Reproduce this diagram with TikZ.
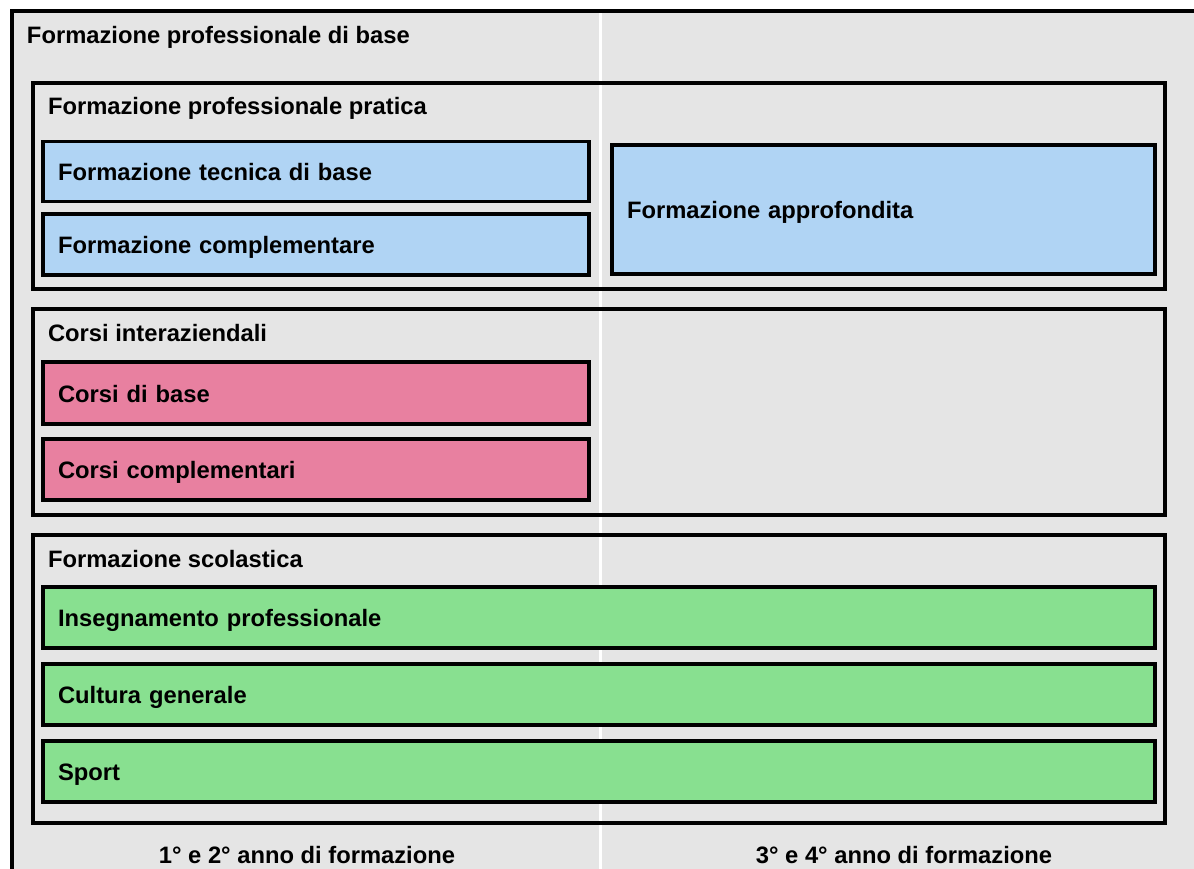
\documentclass[tikz,border=0pt]{standalone}
\usepackage{fontspec}
\setmainfont{Liberation Sans}
\definecolor{bggray}{RGB}{229,229,229}
\definecolor{boxblue}{RGB}{176,212,244}
\definecolor{boxpink}{RGB}{232,128,160}
\definecolor{boxgreen}{RGB}{136,224,144}
\tikzset{
  lbl/.style={font=\fontsize{23.75}{28}\selectfont\bfseries, inner sep=0pt, outer sep=0pt},
  framebox/.style={draw=black, line width=3.5pt, rectangle, outer sep=0pt, inner sep=0pt, anchor=north west},
  itembox/.style={draw=black, line width=3.5pt, rectangle, outer sep=0pt, inner xsep=15pt, inner ysep=0pt,
    align=left, font=\fontsize{23.75}{28}\selectfont\bfseries, text height=18.5pt, text depth=0pt, anchor=north west},
  divider/.style={draw=white, line width=3pt}
}
\begin{document}
\begin{tikzpicture}[x=1pt,y=-1pt]
\useasboundingbox (0,0) rectangle (1194,868);
% outer frame (extends beyond the picture on right and bottom)
\node[framebox, fill=bggray, minimum width=1250pt, minimum height=920pt] (outer) at (12,11) {};
\coordinate (divtop) at (600.5,13);
\coordinate (divbot) at (600.5,880);
\draw[divider] (divtop) -- (divbot);
\node[lbl, anchor=base west] (outertitle) at (27,43) {Formazione professionale di base};

% frame 1
\node[framebox, minimum width=1132pt, minimum height=206pt] (f1) at (33,83) {};
\node[lbl, anchor=base west] (f1title) at (48,114.5) {Formazione professionale pratica};
\node[itembox, fill=boxblue, text width=516pt, minimum width=546pt, minimum height=60pt] (b1) at (43,141.5) {Formazione tecnica di base};
\node[itembox, fill=boxblue, text width=516pt, minimum width=546pt, minimum height=61pt] (b2) at (43,214) {Formazione complementare};
\node[itembox, fill=boxblue, text width=513pt, minimum width=543pt, minimum height=129pt] (b3) at (612,145) {Formazione approfondita};

% frame 2
\node[framebox, minimum width=1132pt, minimum height=206pt] (f2) at (33,309) {};
\node[lbl, anchor=base west] (f2title) at (48,341) {Corsi interaziendali};
\node[itembox, fill=boxpink, text width=516pt, minimum width=546pt, minimum height=62pt] (p1) at (43,362) {Corsi di base};
\node[itembox, fill=boxpink, text width=516pt, minimum width=546pt, minimum height=61pt] (p2) at (43,439) {Corsi complementari};

% frame 3
\node[framebox, minimum width=1132pt, minimum height=288pt] (f3) at (33,535) {};
\node[lbl, anchor=base west] (f3title) at (48,567.5) {Formazione scolastica};
\node[itembox, fill=boxgreen, text width=1082pt, minimum width=1112pt, minimum height=61pt] (g1) at (43,587) {Insegnamento professionale};
\node[itembox, fill=boxgreen, text width=1082pt, minimum width=1112pt, minimum height=61pt] (g2) at (43,664) {Cultura generale};
\node[itembox, fill=boxgreen, text width=1082pt, minimum width=1112pt, minimum height=61pt] (g3) at (43,741) {Sport};

% bottom labels
\node[lbl, anchor=base] (y12) at (307,863.5) {1° e 2° anno di formazione};
\node[lbl, anchor=base] (y34) at (904,863.5) {3° e 4° anno di formazione};
\end{tikzpicture}
\end{document}
